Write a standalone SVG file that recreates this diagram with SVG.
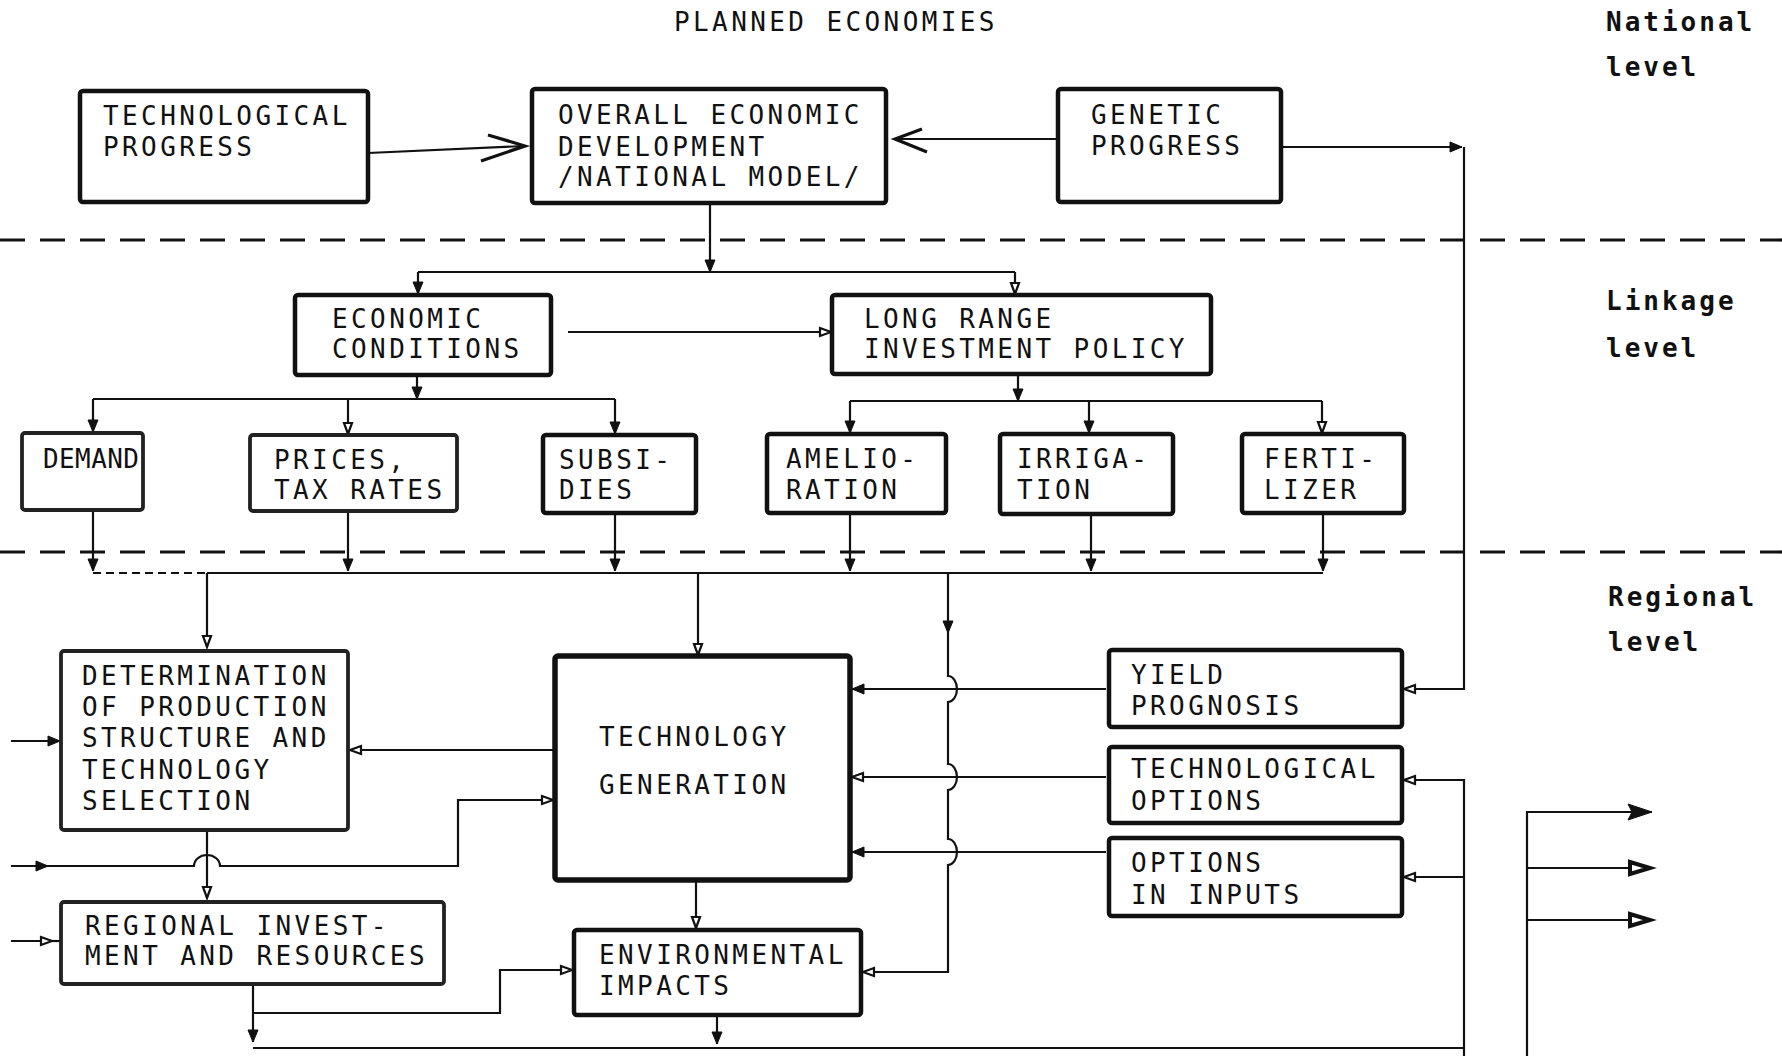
<svg xmlns="http://www.w3.org/2000/svg" width="1782" height="1056" viewBox="0 0 1782 1056">
<style>
.bg{fill:#fff}
.box rect{fill:#fff;stroke:#111;stroke-width:4.5}
.box.lt rect{stroke-width:3.8;stroke:#222}
.box text,.lbl{font-family:"DejaVu Sans Mono","Liberation Mono",monospace;font-size:26px;letter-spacing:3.4px;fill:#111}
.box text.tight{letter-spacing:0.4px}
.side{font-family:"DejaVu Sans Mono","Liberation Mono",monospace;font-size:26px;letter-spacing:3px;fill:#111;font-weight:bold}
.dash{stroke:#111;stroke-width:3.2;stroke-dasharray:25 15;fill:none}
#connectors path,#connectors polyline{fill:none;stroke:#111;stroke-width:2.2}
#connectors .thin{stroke-dasharray:8 5}
#connectors .chev{stroke-width:3.2}
</style>
<defs>
<marker id="af" markerUnits="userSpaceOnUse" markerWidth="14" markerHeight="12" refX="12" refY="5" orient="auto" overflow="visible">
<path d="M0,0 L12,5 L0,10 z" fill="#111" stroke="#111" stroke-width="1"/>
</marker>
<marker id="ao" markerUnits="userSpaceOnUse" markerWidth="14" markerHeight="12" refX="12" refY="5" orient="auto" overflow="visible">
<path d="M1,1 L12,5 L1,9 z" fill="#fff" stroke="#111" stroke-width="2.2"/>
</marker>
<marker id="afL" markerUnits="userSpaceOnUse" markerWidth="26" markerHeight="18" refX="24" refY="8" orient="auto" overflow="visible">
<path d="M0,0 L24,8 L0,16 L4,8 z" fill="#111" stroke="#111" stroke-width="1"/>
</marker>
<marker id="aoL" markerUnits="userSpaceOnUse" markerWidth="26" markerHeight="18" refX="22" refY="7" orient="auto" overflow="visible">
<path d="M2,1 L22,7 L2,13 z" fill="#fff" stroke="#111" stroke-width="4"/>
</marker>
</defs>
<rect class="bg" x="0" y="0" width="1782" height="1056"/>

<text class="lbl" x="674" y="31">PLANNED ECONOMIES</text>
<text class="side" x="1606" y="31">National</text>
<text class="side" x="1606" y="76">level</text>
<text class="side" x="1606" y="310">Linkage</text>
<text class="side" x="1606" y="357">level</text>
<text class="side" x="1608" y="606">Regional</text>
<text class="side" x="1608" y="651">level</text>

<line class="dash" x1="0" y1="240" x2="1782" y2="240"/>
<line class="dash" x1="0" y1="552" x2="1782" y2="552"/>

<g id="connectors">
<path d="M368,153 L525,146"/>
<polyline class="chev" points="488,135 525,146 481,161"/>
<path d="M1058,139 H895"/>
<polyline class="chev" points="922,129 895,139 927,152"/>
<path d="M1281,147 H1462" marker-end="url(#af)"/>
<path d="M1464,147 V689 H1404" marker-end="url(#ao)"/>
<path d="M710,203 V272" marker-end="url(#af)"/>
<path d="M418,272 H1015"/>
<path d="M418,272 V294" marker-end="url(#af)"/>
<path d="M1015,272 V294" marker-end="url(#ao)"/>
<path d="M568,332 H831" marker-end="url(#ao)"/>
<path d="M417,375 V399" marker-end="url(#af)"/>
<path d="M93,399 H615"/>
<path d="M93,399 V432" marker-end="url(#af)"/>
<path d="M348,399 V434" marker-end="url(#ao)"/>
<path d="M615,399 V434" marker-end="url(#af)"/>
<path d="M1018,374 V401" marker-end="url(#af)"/>
<path d="M850,401 H1322"/>
<path d="M850,401 V433" marker-end="url(#af)"/>
<path d="M1089,401 V433" marker-end="url(#af)"/>
<path d="M1322,401 V433" marker-end="url(#ao)"/>
<path d="M93,510 V571" marker-end="url(#af)"/>
<path d="M348,511 V571" marker-end="url(#af)"/>
<path d="M615,513 V571" marker-end="url(#af)"/>
<path d="M850,513 V571" marker-end="url(#af)"/>
<path d="M1091,514 V571" marker-end="url(#af)"/>
<path d="M1323,513 V571" marker-end="url(#af)"/>
<path class="thin" d="M93,573 H207"/>
<path d="M207,573 H1323"/>
<path d="M207,573 V647" marker-end="url(#ao)"/>
<path d="M698,573 V655" marker-end="url(#ao)"/>
<path d="M948,573 V633" marker-end="url(#af)"/>
<path d="M948,633 V676 a9,13 0 0 1 0,26 V764 a9,13 0 0 1 0,26 V839 a9,13 0 0 1 0,26 V972 H863" marker-end="url(#ao)"/>
<path d="M1106,689 H852" marker-end="url(#af)"/>
<path d="M1106,777 H852" marker-end="url(#ao)"/>
<path d="M1106,852 H852" marker-end="url(#af)"/>
<path d="M555,750 H350" marker-end="url(#ao)"/>
<path d="M11,741 H60" marker-end="url(#af)"/>
<path d="M11,866 H48" marker-end="url(#af)"/>
<path d="M48,866 H194 a13,11 0 0 1 26,0 H458 V800 H553" marker-end="url(#ao)"/>
<path d="M207,830 V898" marker-end="url(#ao)"/>
<path d="M11,941 H52" marker-end="url(#ao)"/>
<path d="M52,941 H61"/>
<path d="M696,880 V928" marker-end="url(#ao)"/>
<path d="M253,984 V1042" marker-end="url(#af)"/>
<path d="M253,1013 H500 V970 H572" marker-end="url(#ao)"/>
<path d="M717,1015 V1044" marker-end="url(#af)"/>
<path d="M253,1048 H1464"/>
<path d="M1464,1056 V780 H1404" marker-end="url(#ao)"/>
<path d="M1464,877 H1404" marker-end="url(#ao)"/>
<path d="M1527,1056 V812 H1652" marker-end="url(#afL)"/>
<path d="M1527,868 H1650" marker-end="url(#aoL)"/>
<path d="M1527,920 H1650" marker-end="url(#aoL)"/>
</g>

<g id="n-techprogress" class="box"><rect x="80" y="91" width="288" height="111" rx="3"/>
<text x="103" y="125">TECHNOLOGICAL</text><text x="103" y="156">PROGRESS</text></g>
<g id="n-overall" class="box"><rect x="532" y="89" width="354" height="114" rx="3"/>
<text x="558" y="124">OVERALL ECONOMIC</text><text x="558" y="156">DEVELOPMENT</text><text x="558" y="186">/NATIONAL MODEL/</text></g>
<g id="n-genetic" class="box"><rect x="1058" y="89" width="223" height="113" rx="3"/>
<text x="1091" y="124">GENETIC</text><text x="1091" y="155">PROGRESS</text></g>
<g id="n-econcond" class="box"><rect x="295" y="295" width="256" height="80" rx="3"/>
<text x="332" y="328">ECONOMIC</text><text x="332" y="358">CONDITIONS</text></g>
<g id="n-longrange" class="box"><rect x="832" y="295" width="379" height="79" rx="3"/>
<text x="864" y="328">LONG RANGE</text><text x="864" y="358">INVESTMENT POLICY</text></g>
<g id="n-demand" class="box lt"><rect x="22" y="433" width="121" height="77" rx="3"/>
<text class="tight" x="43" y="468">DEMAND</text></g>
<g id="n-prices" class="box lt"><rect x="250" y="435" width="207" height="76" rx="3"/>
<text x="274" y="469">PRICES,</text><text x="274" y="499">TAX RATES</text></g>
<g id="n-subsidies" class="box"><rect x="543" y="435" width="153" height="78" rx="3"/>
<text x="559" y="469">SUBSI-</text><text x="559" y="499">DIES</text></g>
<g id="n-amelioration" class="box"><rect x="767" y="434" width="179" height="79" rx="3"/>
<text x="786" y="468">AMELIO-</text><text x="786" y="499">RATION</text></g>
<g id="n-irrigation" class="box"><rect x="1000" y="434" width="173" height="80" rx="3"/>
<text x="1017" y="468">IRRIGA-</text><text x="1017" y="499">TION</text></g>
<g id="n-fertilizer" class="box"><rect x="1242" y="434" width="162" height="79" rx="3"/>
<text x="1264" y="468">FERTI-</text><text x="1264" y="499">LIZER</text></g>
<g id="n-determination" class="box lt"><rect x="61" y="651" width="287" height="179" rx="3"/>
<text x="82" y="685">DETERMINATION</text><text x="82" y="716">OF PRODUCTION</text><text x="82" y="747">STRUCTURE AND</text><text x="82" y="779">TECHNOLOGY</text><text x="82" y="810">SELECTION</text></g>
<g id="n-techgen" class="box"><rect x="555" y="656" width="295" height="224" rx="3" style="stroke-width:5.5"/>
<text x="599" y="746">TECHNOLOGY</text><text x="599" y="794">GENERATION</text></g>
<g id="n-yield" class="box"><rect x="1109" y="650" width="293" height="77" rx="3"/>
<text x="1131" y="684">YIELD</text><text x="1131" y="715">PROGNOSIS</text></g>
<g id="n-techoptions" class="box"><rect x="1109" y="747" width="293" height="76" rx="3"/>
<text x="1131" y="778">TECHNOLOGICAL</text><text x="1131" y="810">OPTIONS</text></g>
<g id="n-inputs" class="box"><rect x="1109" y="838" width="293" height="78" rx="3"/>
<text x="1131" y="872">OPTIONS</text><text x="1131" y="904">IN INPUTS</text></g>
<g id="n-regional" class="box lt"><rect x="61" y="902" width="383" height="82" rx="3"/>
<text x="85" y="935">REGIONAL INVEST-</text><text x="85" y="965">MENT AND RESOURCES</text></g>
<g id="n-environmental" class="box"><rect x="574" y="930" width="287" height="85" rx="3"/>
<text x="599" y="964">ENVIRONMENTAL</text><text x="599" y="995">IMPACTS</text></g>
</svg>
